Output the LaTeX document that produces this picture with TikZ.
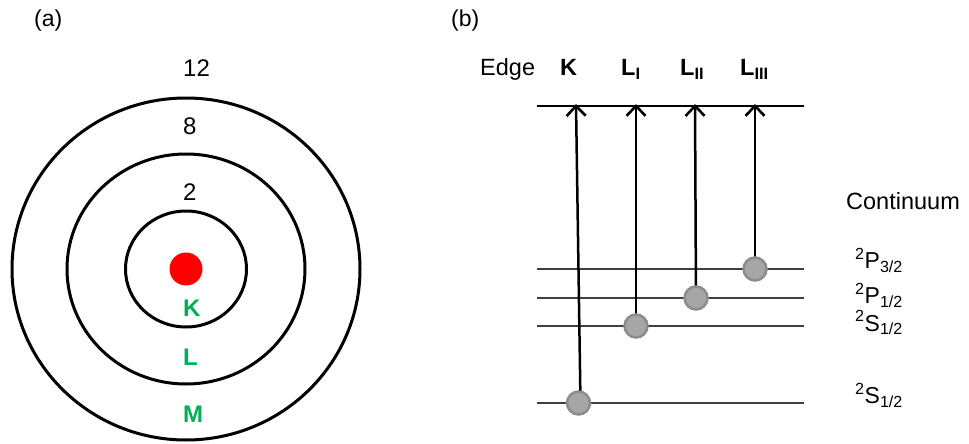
\documentclass[tikz,border=0pt]{standalone}
\usepackage{fontspec}
\setmainfont{Liberation Sans}
\usetikzlibrary{arrows.meta}
\definecolor{shellgreen}{HTML}{00B050}
\definecolor{dotfill}{HTML}{A6A6A6}
\definecolor{dotedge}{HTML}{8C8C8C}
\definecolor{levelgray}{HTML}{404040}
\begin{document}
\begin{tikzpicture}[x=1pt,y=-1pt,
  shell/.style={draw=black,line width=3pt},
  nucleus/.style={circle,fill=red,draw=none,minimum size=33pt,inner sep=0pt},
  numlbl/.style={inner sep=0pt,anchor=base west,font=\fontsize{24}{28}\selectfont},
  shlbl/.style={inner sep=0pt,anchor=base west,text=shellgreen,font=\fontsize{24}{28}\selectfont\bfseries},
  panel/.style={inner sep=0pt,anchor=base west,font=\fontsize{23}{27}\selectfont},
  edgelbl/.style={inner sep=0pt,anchor=base west,font=\fontsize{23.5}{28}\selectfont},
  termlbl/.style={inner sep=0pt,anchor=base west,font=\fontsize{23}{27}\selectfont},
  topline/.style={draw=black,line width=1.5pt},
  lvl/.style={draw=levelgray,line width=1.7pt},
  elec/.style={circle,fill=dotfill,draw=dotedge,line width=2.5pt,minimum size=23pt,inner sep=0pt},
  exc/.style={line width=2.5pt,-{Straight Barb[length=10pt,width=19pt,line width=2.6pt]}},
]
\useasboundingbox (0,0) rectangle (969,444);

% ---------- panel (a) ----------
\node[panel] (pa) at (34,27) {(a)};
\coordinate (ctr) at (186,269);
\draw[shell] (ctr) ellipse [x radius=60.5pt, y radius=58pt];
\draw[shell] (ctr) ellipse [x radius=119pt, y radius=115pt];
\draw[shell] (ctr) ellipse [x radius=174pt, y radius=171pt];
\node[nucleus] (nuc) at (ctr) {};
\node[numlbl] (n12) at (183,76.5) {12};
\node[numlbl] (n8) at (183,134) {8};
\node[numlbl] (n2) at (183,200.5) {2};
\node[shlbl] (sK) at (183,316) {K};
\node[shlbl] (sL) at (183,365) {L};
\node[shlbl] (sM) at (183,422) {M};

% ---------- panel (b) ----------
\node[panel] (pb) at (451,27) {(b)};
\node[edgelbl] (eEdge) at (480,76) {Edge};
\node[edgelbl] (eK) at (560,76) {\bfseries K};
\node[edgelbl] (eL1) at (621,76) {\bfseries L\textsubscript{I}};
\node[edgelbl] (eL2) at (680,76) {\bfseries L\textsubscript{II}};
\node[edgelbl] (eL3) at (740,76) {\bfseries L\textsubscript{III}};

\coordinate (topA) at (537,106);
\coordinate (topB) at (804,106);
\draw[topline] (topA) -- (topB);

\coordinate (l1A) at (537,269);  \coordinate (l1B) at (804,269);
\coordinate (l2A) at (537,298);  \coordinate (l2B) at (804,298);
\coordinate (l3A) at (537,326);  \coordinate (l3B) at (804,326);
\coordinate (l4A) at (537,403);  \coordinate (l4B) at (804,403);
\draw[lvl] (l1A) -- (l1B);
\draw[lvl] (l2A) -- (l2B);
\draw[lvl] (l3A) -- (l3B);
\draw[lvl] (l4A) -- (l4B);

\coordinate (cK) at (578.5,403);
\coordinate (cL1) at (636,326);
\coordinate (cL2) at (696,298);
\coordinate (cL3) at (755,269);
\coordinate (tK) at (576,104);
\coordinate (tL1) at (636,104);
\coordinate (tL2) at (695,104);
\coordinate (tL3) at (755,104);
\draw[exc] (580.5,403) -- (tK);
\draw[exc] (cL1) -- (tL1);
\draw[exc] (cL2) -- (tL2);
\draw[exc] (cL3) -- (tL3);
\node[elec] (dK) at (cK) {};
\node[elec] (dL1) at (cL1) {};
\node[elec] (dL2) at (cL2) {};
\node[elec] (dL3) at (cL3) {};

\node[edgelbl] (cont) at (846,209) {Continuum};
\node[termlbl] (t1) at (855,268.5) {\textsuperscript{2}P\textsubscript{3/2}};
\node[termlbl] (t2) at (855,303.5) {\textsuperscript{2}P\textsubscript{1/2}};
\node[termlbl] (t3) at (855,331) {\textsuperscript{2}S\textsubscript{1/2}};
\node[termlbl] (t4) at (855,403.5) {\textsuperscript{2}S\textsubscript{1/2}};
\end{tikzpicture}
\end{document}
